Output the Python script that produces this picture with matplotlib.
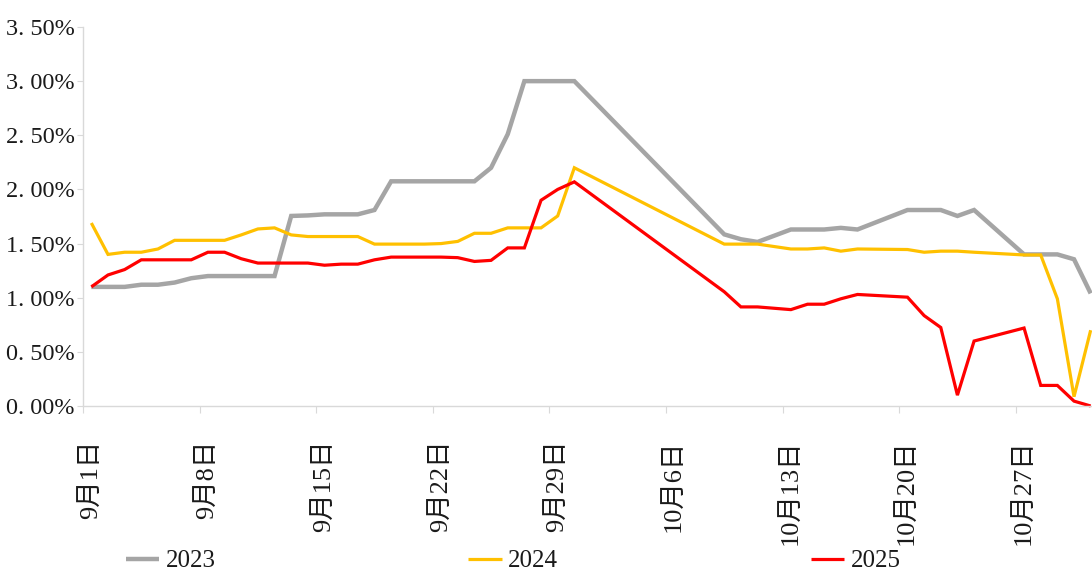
import numpy as np
import matplotlib
matplotlib.use("Agg")
import matplotlib.pyplot as plt

# ---- data ----
days = list(range(61))  # Sep 1 .. Oct 31
tick_label_days = [0, 7, 14, 21, 28, 35, 42, 49, 56]
tick_labels = ["9月1日", "9月8日", "9月15日", "9月22日", "9月29日",
               "10月6日", "10月13日", "10月20日", "10月27日"]
N = None
s2023 = [1.10, 1.10, 1.10, 1.12, 1.12, 1.14, 1.18, 1.20, 1.20, 1.20,
         1.20, 1.20, 1.755, 1.76, 1.77, 1.77, 1.77, 1.81, 2.075, 2.075,
         2.075, 2.075, 2.075, 2.075, 2.20, 2.51, 3.00, 3.00, 3.00, 3.00,
         N, N, N, N, N, N, N, N, 1.585, 1.54,
         1.515, N, 1.63, 1.63, 1.63, 1.645, 1.63, N, N, 1.81,
         1.81, 1.81, 1.755, 1.81, N, N, 1.40, 1.40, 1.40, 1.355,
         1.04]
s2024 = [1.69, 1.40, 1.42, 1.42, 1.45, 1.53, 1.53, 1.53, 1.53, 1.58,
         1.635, 1.645, 1.58, 1.565, 1.565, 1.565, 1.565, 1.495, 1.495, 1.495,
         1.495, 1.50, 1.52, 1.595, 1.595, 1.645, 1.645, 1.645, 1.755, 2.20,
         N, N, N, N, N, N, N, N, 1.495, 1.495,
         1.495, N, 1.45, 1.45, 1.46, 1.43, 1.45, N, N, 1.445,
         1.42, 1.43, 1.43, 1.42, N, N, 1.395, 1.395, 0.99, 0.086,
         0.70]
s2025 = [1.10, 1.21, 1.26, 1.35, 1.35, 1.35, 1.35, 1.42, 1.42, 1.36,
         1.32, 1.32, 1.32, 1.32, 1.30, 1.31, 1.31, 1.35, 1.375, 1.375,
         1.375, 1.375, 1.37, 1.335, 1.345, 1.46, 1.46, 1.90, 2.00, 2.07,
         N, N, N, N, N, N, N, N, 1.055, 0.915,
         0.915, N, 0.89, 0.94, 0.94, 0.99, 1.03, N, N, 1.005,
         0.835, 0.725, 0.10, 0.60, N, N, 0.72, 0.19, 0.19, 0.045,
         0.00]
series_names = ["2023", "2024", "2025"]
series_values = [s2023, s2024, s2025]
series_colors = ["#a5a5a5", "#ffc000", "#ff0000"]
series_widths = [3.2, 2.3, 2.3]
yticks = [0.0, 0.5, 1.0, 1.5, 2.0, 2.5, 3.0, 3.5]
ytick_labels = ["0. 00%", "0. 50%", "1. 00%", "1. 50%", "2. 00%", "2. 50%", "3. 00%", "3. 50%"]

fam = ["Liberation Serif", "Noto Sans CJK SC"]
plt.rcParams["font.family"] = fam

W, H = 1092, 572
fig = plt.figure(figsize=(W / 100, H / 100), dpi=100)
left, right, top, bottom = 83, 1099, 27, 406
ax = fig.add_axes([left / W, 1 - bottom / H, (right - left) / W, (bottom - top) / H])

handles = []
for name, vals, c, lw in zip(series_names, series_values, series_colors, series_widths):
    x = np.array([d for d, v in zip(days, vals) if v is not None])
    y = np.array([v for v in vals if v is not None])
    h, = ax.plot(x, y, color=c, lw=lw, label=name, solid_joinstyle="miter",
                 solid_capstyle="butt", clip_on=False)
    handles.append(h)

ax.set_xlim(-0.5, 60.5)
ax.set_ylim(0, 3.5)

for s in ["top", "right"]:
    ax.spines[s].set_visible(False)
for s in ["left", "bottom"]:
    ax.spines[s].set_color("#d9d9d9")
    ax.spines[s].set_linewidth(1.0)

ax.set_yticks(yticks)
ax.set_yticklabels(ytick_labels, fontsize=17.5, color="#1a1a1a")
ax.tick_params(axis="y", length=4, color="#d9d9d9", pad=2)

ax.set_xticks([d - 0.5 for d in range(0, 61, 7)])
ax.set_xticklabels([])
ax.tick_params(axis="x", which="major", length=5, color="#d9d9d9")
ax.set_xticks(tick_label_days, minor=True)
ax.set_xticklabels(tick_labels, minor=True, rotation=90, fontsize=19,
                   color="#1a1a1a", va="top", ha="center")
ax.tick_params(axis="x", which="minor", length=0, pad=24)

leg = fig.legend(handles=handles, labels=series_names, loc="center",
                 bbox_to_anchor=(513 / W, 1 - 561 / H), ncol=3, frameon=False,
                 fontsize=18, handlelength=1.35, handletextpad=0.25,
                 columnspacing=10.1)
for t in leg.get_texts():
    t.set_color("#1a1a1a")

fig.savefig("out.png", dpi=100)
